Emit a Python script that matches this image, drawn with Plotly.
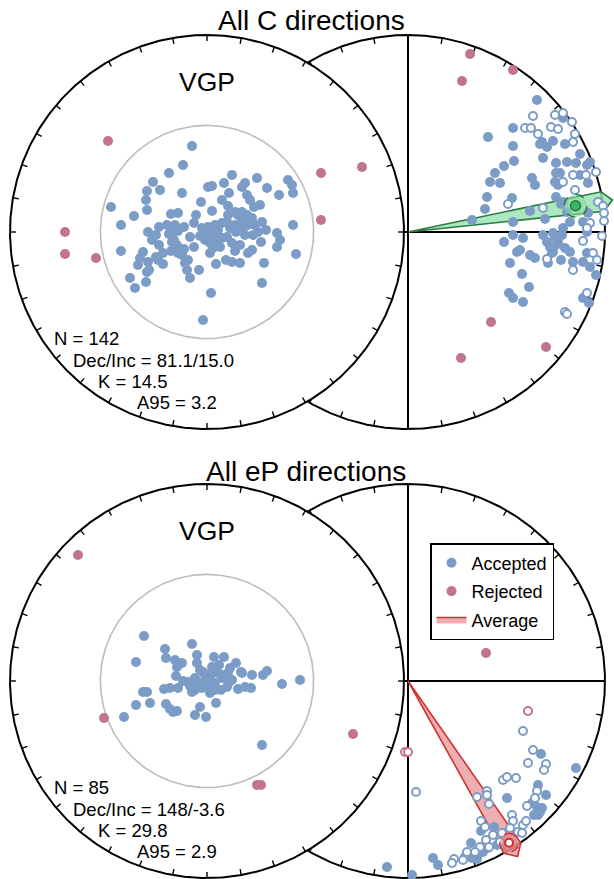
import numpy as np
import plotly.graph_objects as go

# ---------------------------------------------------------------
# Data: equal-area projected positions (east, north) read from the
# reference, in digitising units where the primitive circle = 197.
# ---------------------------------------------------------------
DIGI = 197.0

# ---- Panel 1 : All C directions ----
c_vgp_acc = [(-15,86),(-24,67),(-38,59),(-54,50),(-47,42),(-60,41),(-61,32),(-60,22),(-96,25),(-73,16),
             (-86,7),(-86,-19),(-25,39),(-6,30),(-36,18),(-29,19),(1,45),(5,46),(17,49),(25,57),(22,39),
             (35,45),(38,49),(50,54),(60,44),(72,37),(81,52),(85,47),(86,39),(40,37),(43,32),(47,25),(5,21),
             (21,26),(21,17),(28,20),(35,20),(40,17),(45,14),(48,7),(20,10),(15,9),(8,7),(1,5),(-5,4),(-13,9),
             (-23,5),(-29,1),(-35,1),(-38,-2),(-48,5),(-59,0),(-55,-8),(-48,-13),(-35,-10),(-30,-13),(-36,-19),
             (-29,-21),(-23,-17),(-13,-15),(-19,-28),(-20,-38),(-17,-46),(-8,-38),(3,-21),(9,-32),(1,-6),(8,-3),
             (15,-6),(20,-5),(25,-11),(28,-19),(19,-28),(25,-30),(33,-31),(41,-21),(45,-18),(38,-3),(46,-3),
             (54,-10),(51,0),(70,-1),(73,-8),(70,-15),(86,7),(89,-22),(57,-31),(55,-51),(4,-61),(-4,-88),
             (-64,-20),(-67,-26),(-69,-33),(-59,-30),(-49,-28),(-44,-32),(-60,-40),(-61,-50),(-72,-56),(-77,-46),
             (-58,-38),(-2,0),(5,2),(10,-8),(3,-11),(13,-15),(6,-16),(28,7),(35,12),(31,17),(41,7),(-40,7),
             (-51,-3),(-32,7),(-33,-8),(-25,-23),(-44,-21),(-51,-25),(-22,-31),(-2,-8),(-7,-4),(11,2),(23,4),
             (29,0),(36,4),(55,10),(59,2),(33,-13),(-17,-5),(-11,17),(15,32),(53,27)]
c_vgp_rej = [(-99,91),(155,65),(114,59),(114,12),(-142,0),(-142,-22),(-111,-26)]

c_dir_rej = [(62,178),(105,162),(54,151),(83,-90),(138,-115),(53,-126)]
c_dir_down = [(129,132),(105,104),(80,95),(105,86),(134,90),(139,85),(145,91),(157,88),(155,114),(135,74),
              (96,66),(106,71),(87,59),(82,50),(92,49),(124,54),(127,47),(148,69),(159,70),(168,69),(172,78),
              (179,67),(182,70),(152,59),(147,50),(150,47),(172,57),(180,49),(79,35),(104,34),(77,23),(64,12),
              (148,35),(155,30),(122,21),(137,13),(159,20),(162,10),(180,19),(175,10),(105,10),(105,-3),(96,-10),
              (115,-6),(135,-3),(145,-1),(142,-15),(150,-10),(154,-3),(155,4),(144,-21),(162,-20),(109,-20),
              (122,-23),(127,-26),(102,-31),(140,-31),(153,-28),(165,-30),(175,-30),(179,-21),(182,-35),(188,-43),
              (114,-42),(121,-55),(101,-61),(105,-66),(115,-70),(175,-66),(181,-71),(179,0),(147,-5),(139,-10),
              (112,-18),(148,-13),(145,-20),(157,-16),(153,28),(148,59),(132,88)]
c_dir_up = [(125,116),(147,117),(155,119),(164,110),(117,104),(123,104),(130,98),(143,105),(150,103),(167,98),
            (165,90),(165,57),(155,50),(188,60),(178,57),(167,42),(100,28),(135,24),(190,30),(195,26),(196,11),
            (182,9),(179,4),(194,-4),(175,-9),(185,-21),(189,-28),(139,-27),(165,-38),(179,-61),(157,-80),
            (159,-82),(196,19)]
c_stats = {"N": 142, "dec": 81.1, "inc": 15.0, "K": 14.5, "A95": 3.2}

# ---- Panel 2 : All eP directions ----
ep_vgp_acc = [(-63,45),(-42,32),(-41,23),(-32,21),(-25,18),(-30,14),(-15,37),(-10,26),(-71,19),(-31,5),
              (-19,-1),(-12,3),(-4,9),(7,24),(17,24),(29,18),(5,14),(11,8),(3,3),(8,-2),(15,3),(21,8),(25,1),
              (35,8),(45,6),(56,6),(60,10),(75,-3),(93,1),(31,-8),(38,-6),(44,-7),(14,-9),(3,-12),(-5,-7),
              (-12,-9),(-15,-11),(9,-22),(-29,-7),(-37,-7),(-43,-8),(-64,-11),(-60,-11),(-57,-22),(-71,-24),
              (-83,-36),(-41,-23),(-37,-28),(-30,-30),(-34,-31),(-7,-26),(-12,-34),(-1,-36),(55,-64),(-2,6),
              (1,-4),(-9,-1),(20,-6),(16,6),(34,9),(-7,11),(5,9),(12,16),(-2,-2),(21,-3),(-17,-5),(-24,0),
              (8,-9),(23,13),(-10,18)]
ep_vgp_rej = [(-129,126),(-103,-37),(146,-53),(50,-104),(54,-104)]

ep_dir_rej_down = [(78,28)]
ep_dir_rej_up = [(120,-30),(-3,-71),(0,-71)]
ep_dir_down = [(133,-73),(168,-87),(130,-104),(138,-114),(129,-126),(134,-127),(130,-134),(126,-134),(99,-117),
               (73,-150),(86,-146),(63,-162),(25,-177),(30,-184),(57,-176),(70,-173),(75,-171),(80,-167),
               (89,-164),(4,-194),(69,-178),(64,-177),(-21,-186),(132,-131),(124,-122)]
ep_dir_up = [(115,-50),(125,-69),(120,-82),(138,-83),(136,-89),(95,-99),(99,-96),(108,-97),(8,-111),(69,-116),
             (79,-110),(79,-114),(81,-123),(129,-110),(127,-117),(119,-125),(104,-134),(105,-140),(73,-140),
             (77,-146),(102,-147),(115,-144),(118,-140),(110,-151),(94,-152),(85,-154),(78,-159),(81,-166),
             (72,-166),(67,-171),(59,-171),(55,-179),(46,-178),(44,-182),(92,-161),(114,-152)]
ep_stats = {"N": 85, "dec": 148.0, "inc": -3.6, "K": 29.8, "A95": 2.9}

VGP_CUTOFF = 45.0  # degrees

# ---------------------------------------------------------------
# Styling / layout constants
# ---------------------------------------------------------------
BLUE = "#7b9cc6"
PINK = "#c27391"
FONT = "Liberation Sans, Arial, Helvetica, sans-serif"
NET_DX = 201 / DIGI      # offset of the direction net from the VGP net
PANEL_DY = 449 / DIGI    # vertical offset between the two panels
TICK = 0.03

def ea_radius(inc):
    return np.sqrt(2) * np.sin(np.radians(90 - abs(inc)) / 2)

def proj(dec, inc):
    r = ea_radius(inc)
    return r * np.sin(np.radians(dec)), r * np.cos(np.radians(dec))

fig = go.Figure()

def disk(cx, cy):
    t = np.linspace(0, 2 * np.pi, 721)
    fig.add_trace(go.Scatter(x=cx + np.sin(t), y=cy + np.cos(t), mode="lines", fill="toself",
                             fillcolor="white", line=dict(color="black", width=2),
                             hoverinfo="skip", showlegend=False))

def ticks(cx, cy):
    xs, ys = [], []
    for a in np.radians(np.arange(0, 360, 10)):
        xs += [cx + np.sin(a), cx + (1 - TICK) * np.sin(a), None]
        ys += [cy + np.cos(a), cy + (1 - TICK) * np.cos(a), None]
    fig.add_trace(go.Scatter(x=xs, y=ys, mode="lines", line=dict(color="black", width=1.4),
                             hoverinfo="skip", showlegend=False))

def pts(cx, cy, data, color, hollow=False, name=None, legend=False, rank=1000, group=None):
    if not data:
        return
    e = np.array([p[0] for p in data]) / DIGI
    n = np.array([p[1] for p in data]) / DIGI
    if hollow:
        mk = dict(size=8, color="white", line=dict(color=color, width=2))
    else:
        mk = dict(size=10, color=color, line=dict(width=0))
    fig.add_trace(go.Scatter(x=cx + e, y=cy + n, mode="markers", marker=mk, name=name,
                             showlegend=legend, legendrank=rank, legendgroup=group, hoverinfo="skip"))

def small_circle(cx, cy, r, n=200):
    t = np.linspace(0, 2 * np.pi, n)
    return cx + r * np.sin(t), cy + r * np.cos(t)

def panel(cy, title, vgp_acc, vgp_rej, dir_down, dir_up, rej_down, rej_up, stats,
          wedge_fill, wedge_line, mean_style, legend):
    cxr = NET_DX
    # --- direction net (behind) ---
    disk(cxr, cy)
    ticks(cxr, cy)
    fig.add_trace(go.Scatter(x=[cxr, cxr, None, cxr - 1, cxr + 1], y=[cy - 1, cy + 1, None, cy, cy],
                             mode="lines", line=dict(color="black", width=2),
                             hoverinfo="skip", showlegend=False))
    # average wedge
    d = np.radians(stats["dec"])
    u = np.array([np.sin(d), np.cos(d)])
    v = np.array([np.cos(d), -np.sin(d)])
    s_t = [(0, 0), (1.0, 0.05), (1.05, 0.0), (1.0, -0.05), (0, 0)]
    wx = [cxr + s * u[0] + t * v[0] for s, t in s_t]
    wy = [cy + s * u[1] + t * v[1] for s, t in s_t]
    fig.add_trace(go.Scatter(x=wx, y=wy, mode="lines", fill="toself", fillcolor=wedge_fill,
                             line=dict(color=wedge_line, width=1.6), name="Average",
                             showlegend=legend, legendrank=3, legendgroup="c", hoverinfo="skip"))
    pts(cxr, cy, rej_down, PINK, name="Rejected", legend=legend, rank=2, group="b")
    pts(cxr, cy, rej_up, PINK, hollow=True)
    pts(cxr, cy, dir_down, BLUE, name="Accepted", legend=legend, rank=1, group="a")
    pts(cxr, cy, dir_up, BLUE, hollow=True)
    # mean + confidence circle
    mx, my = proj(stats["dec"], stats["inc"])
    ccx, ccy = small_circle(cxr + mx, cy + my, mean_style["cone_r"])
    fig.add_trace(go.Scatter(x=ccx, y=ccy, mode="lines", fill="toself", fillcolor=mean_style["cone_fill"],
                             line=dict(color=wedge_line, width=1.5, dash="dash"),
                             hoverinfo="skip", showlegend=False))
    fig.add_trace(go.Scatter(x=[cxr + mx], y=[cy + my], mode="markers",
                             marker=dict(size=mean_style["size"], color=mean_style["color"],
                                         line=dict(color=wedge_line, width=mean_style["lw"])),
                             hoverinfo="skip", showlegend=False))
    # --- VGP net (front) ---
    disk(0, cy)
    ticks(0, cy)
    gx, gy = small_circle(0, cy, ea_radius(90 - VGP_CUTOFF), 361)
    fig.add_trace(go.Scatter(x=gx, y=gy, mode="lines", line=dict(color="#bdbdbd", width=1.6),
                             hoverinfo="skip", showlegend=False))
    pts(0, cy, vgp_rej, PINK)
    pts(0, cy, vgp_acc, BLUE)

    # --- text ---
    dec_txt = f"{stats['dec']:g}"
    ann = [
        dict(x=title[1], y=cy + title[2], text=title[0], size=28, xanchor="center"),
        dict(x=0, y=cy + 0.761, text="VGP", size=26.5, xanchor="center"),
        dict(x=-0.785, y=cy - 0.543, text=f"N = {stats['N']}", size=18.5, xanchor="left"),
        dict(x=-0.688, y=cy - 0.652, text=f"Dec/Inc = {dec_txt}/{stats['inc']:.1f}", size=18.5, xanchor="left"),
        dict(x=-0.565, y=cy - 0.761, text=f"K = {stats['K']}", size=18.5, xanchor="left"),
        dict(x=-0.368, y=cy - 0.866, text=f"A95 = {stats['A95']}", size=18.5, xanchor="left"),
    ]
    for a in ann:
        fig.add_annotation(x=a["x"], y=a["y"], xref="x", yref="y", text=a["text"], showarrow=False,
                           xanchor=a["xanchor"], yanchor="middle",
                           font=dict(family=FONT, size=a["size"], color="black"))

panel(0.0, ("All C directions", 0.528, 1.076), c_vgp_acc, c_vgp_rej, c_dir_down, c_dir_up,
      c_dir_rej, [], c_stats, "rgba(150,225,175,0.8)", "#2a7a40",
      dict(cone_r=0.058, cone_fill="rgba(140,220,165,0.6)", size=10, color="#38b862", lw=1.5), False)
panel(-PANEL_DY, ("All eP directions", 0.503, 1.066), ep_vgp_acc, ep_vgp_rej, ep_dir_down, ep_dir_up,
      ep_dir_rej_down, ep_dir_rej_up, ep_stats, "rgba(230,150,150,0.75)", "#d03232",
      dict(cone_r=0.048, cone_fill="rgba(225,120,120,0.55)", size=8, color="white", lw=2.2), True)

fig.update_layout(
    width=614, height=879, margin=dict(l=0, r=0, t=0, b=0),
    paper_bgcolor="white", plot_bgcolor="white",
    xaxis=dict(range=[-207 / DIGI, 407 / DIGI], visible=False, fixedrange=True),
    yaxis=dict(range=[(232 - 879) / DIGI, 232 / DIGI], visible=False, fixedrange=True),
    legend=dict(x=430 / 614, y=1 - 543 / 879, xanchor="left", yanchor="top",
                bgcolor="white", bordercolor="black", borderwidth=1.5,
                font=dict(family=FONT, size=18, color="black"),
                traceorder="grouped", tracegroupgap=2),
    font=dict(family=FONT),
)

fig.write_html("out.html", config={"displayModeBar": False, "staticPlot": True},
               post_script="document.body.style.margin='0px';document.body.style.overflow='hidden';")
